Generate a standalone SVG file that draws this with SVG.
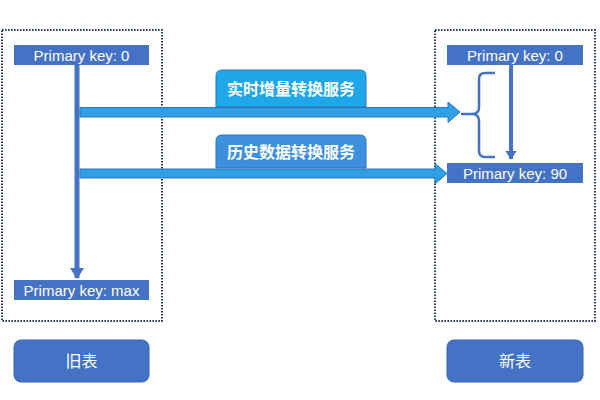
<svg xmlns="http://www.w3.org/2000/svg" width="600" height="400" viewBox="0 0 600 400">
<style>
.frame{fill:none;stroke:#2f3d5c;stroke-width:2;stroke-dasharray:1.6 1.4}
.bar{fill:#4472c4}
.bt{font-family:"Liberation Sans","Noto Sans CJK SC",sans-serif;font-size:15px;fill:#fff;text-anchor:middle}
.tbl{fill:#4472c4;stroke:#3a64ad;stroke-width:1}
.tt{font-family:"Liberation Sans","Noto Sans CJK SC",sans-serif;font-size:16px;fill:#fff;text-anchor:middle}
.lt{font-family:"Noto Sans CJK SC",sans-serif;font-size:16px;font-weight:bold;fill:#fff;text-anchor:middle}
.big{fill:#2f9fe6;stroke:#2e75b6;stroke-width:1}
.vline{stroke:#4472c4;stroke-width:5;fill:none}
</style>
<defs>
<marker id="ah" markerWidth="4" markerHeight="4" refX="2" refY="2" orient="auto" markerUnits="strokeWidth">
<path d="M0,0.6 L2.2,2 L0,3.4 Z" fill="#4472c4"/>
</marker>
</defs>
<g id="old-frame">
<rect class="frame" x="2" y="30" width="160" height="291"/>
</g>
<g id="new-frame">
<rect class="frame" x="435" y="30" width="160" height="291"/>
</g>
<g id="connectors">
<line class="vline" x1="77" y1="65" x2="77" y2="278" marker-end="url(#ah)"/>
<line class="vline" x1="511" y1="65" x2="511" y2="159" marker-end="url(#ah)" style="stroke-width:4"/>
<path class="big" d="M80,107.5 H448 V102 L460,112 L448,122.5 V117 H80 Z"/>
<path class="big" d="M80,169 H435 V163.5 L447,173.5 L435,184 V178 H80 Z"/>
<path d="M495,73 H485 Q479,73 479,79 V107 Q479,114 472,114 H461 M472,114 Q479,114 479,121 V151 Q479,157 485,157 H495" fill="none" stroke="#4472c4" stroke-width="2.5"/>
</g>
<g id="label-realtime">
<path d="M216,107 V76 Q216,70 222,70 H360 Q366,70 366,76 V107 Z" fill="#1fa7ea" stroke="#2e75b6" stroke-width="1"/>
<text class="lt" x="291" y="95">实时增量转换服务</text>
</g>
<g id="label-history">
<path d="M216,168 V141 Q216,135 222,135 H360 Q366,135 366,141 V168 Z" fill="#3d90de" stroke="#2e75b6" stroke-width="1"/>
<text class="lt" x="291" y="158">历史数据转换服务</text>
</g>
<g id="old-pk0">
<rect class="bar" x="14" y="45" width="135" height="20"/>
<text class="bt" x="81.5" y="60.5">Primary key: 0</text>
</g>
<g id="old-pkmax">
<rect class="bar" x="14" y="280" width="135" height="20"/>
<text class="bt" x="81.5" y="295.5">Primary key: max</text>
</g>
<g id="new-pk0">
<rect class="bar" x="447" y="45" width="136" height="20"/>
<text class="bt" x="515" y="60.5">Primary key: 0</text>
</g>
<g id="new-pk90">
<rect class="bar" x="447" y="163" width="136" height="20"/>
<text class="bt" x="515" y="178.5">Primary key: 90</text>
</g>
<g id="old-table">
<rect class="tbl" x="14" y="340" width="135" height="42" rx="7"/>
<text class="tt" x="81.5" y="367">旧表</text>
</g>
<g id="new-table">
<rect class="tbl" x="447" y="340" width="136" height="42" rx="7"/>
<text class="tt" x="515" y="367">新表</text>
</g>
</svg>
